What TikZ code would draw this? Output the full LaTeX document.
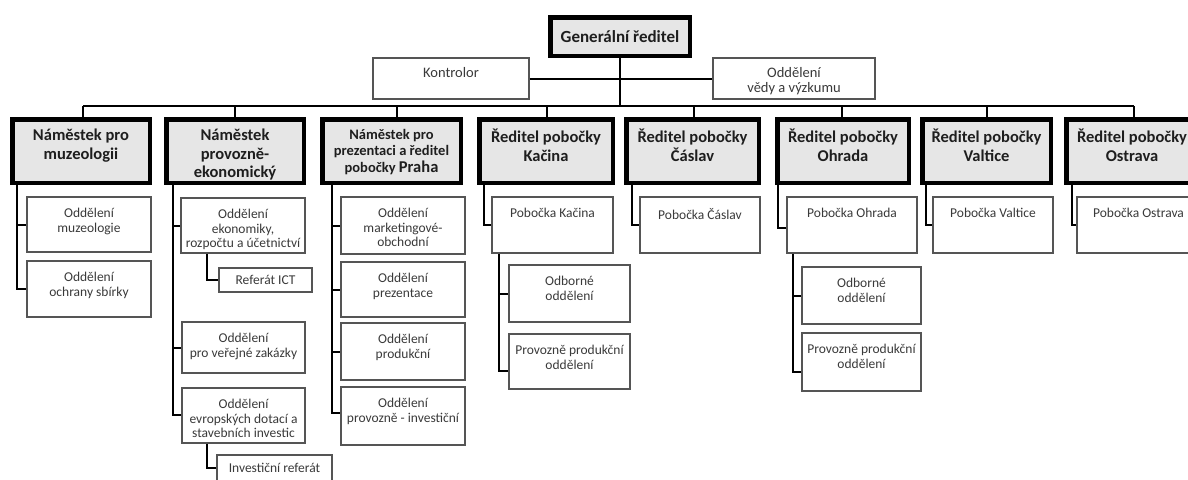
\documentclass[tikz,border=0pt]{standalone}
\usepackage{fontspec}
\setmainfont{Carlito}
\usetikzlibrary{fit,calc}
\definecolor{boxfill}{HTML}{E6E6E6}
\definecolor{thinline}{HTML}{555555}
\definecolor{txt}{HTML}{3A3A3A}
\definecolor{txtdark}{HTML}{1E1E1E}
\tikzset{
  head/.style={draw=black, line width=4.5pt, fill=boxfill, inner sep=0pt},
  chbox/.style={draw=thinline, line width=1.3pt, fill=white, inner sep=0pt},
  conn/.style={draw=black, line width=2pt},
  htext/.style={font=\fontsize{16.5}{18.5}\selectfont\bfseries, text=txtdark, align=center, inner sep=0pt},
  h3text/.style={font=\fontsize{14.5}{16.5}\selectfont\bfseries, text=txtdark, align=center, inner sep=0pt},
  ctext/.style={font=\fontsize{13.5}{14.5}\selectfont, text=txt, align=center, inner sep=0pt},
  ttext/.style={font=\fontsize{14.5}{15}\selectfont, text=txt, align=center, inner sep=0pt},
}
% name, x1, y1, x2, y2, text
\newcommand{\headbox}[6]{%
  \node[head, fit={(#2,#3) (#4,#5)}] (#1) {};
  \node[htext, anchor=north] (#1-t) at ([yshift=-12pt]#1.north) {#6};}
\newcommand{\childbox}[6]{%
  \node[chbox, fit={(#2,#3) (#4,#5)}] (#1) {};
  \node[ctext, anchor=north] (#1-t) at ([yshift=-12pt]#1.north) {#6};}
\newcommand{\childmid}[6]{%
  \node[chbox, fit={(#2,#3) (#4,#5)}] (#1) {};
  \node[ctext] (#1-t) at (#1.center) {#6};}
\begin{document}
\begin{tikzpicture}[x=1pt, y=-1pt]
\useasboundingbox (0,0) rectangle (1188,479);
\clip (0,0) rectangle (1188,479);
\fill[white] (0,0) rectangle (1188,479);

% top level
\node[head, fit={(550.25,17.25) (689.75,55.75)}] (gen) {};
\node[htext, font=\fontsize{17}{19}\selectfont\bfseries] (gen-t) at (gen.center) {Generální ředitel};
\node[chbox, fit={(373,58) (529,99)}] (kon) {};
\node[ttext, anchor=north] (kon-t) at ([yshift=-10pt]kon.north) {Kontrolor};
\node[chbox, fit={(713,58) (875,99)}] (ved) {};
\node[ttext, anchor=north] (ved-t) at ([yshift=-10pt]ved.north) {Oddělení\\vědy a výzkumu};
\coordinate (barY) at (0,106);

% second level
\headbox{n1}{12.25}{119.25}{149.75}{182.75}{Náměstek pro\\muzeologii}
\headbox{n2}{166.25}{119.25}{303.75}{182.75}{Náměstek\\provozně-\\ekonomický}
\node[head, fit={(322.25,119.25) (460.75,182.75)}] (n3) {};
\node[h3text, anchor=north] (n3-t) at ([yshift=-12pt]n3.north) {Náměstek pro\\prezentaci a ředitel\\pobočky {\fontsize{16.5}{16.5}\selectfont Praha}};
\headbox{n4}{479.25}{119.25}{612.75}{182.75}{Ředitel pobočky\\Kačina}
\headbox{n5}{626.25}{119.25}{758.75}{182.75}{Ředitel pobočky\\Čáslav}
\headbox{n6}{777.25}{119.25}{908.75}{182.75}{Ředitel pobočky\\Ohrada}
\headbox{n7}{922.25}{119.25}{1050.75}{182.75}{Ředitel pobočky\\Valtice}
\headbox{n8}{1066.25}{119.25}{1197.75}{182.75}{Ředitel pobočky\\Ostrava}

% top connectors
\draw[conn] (gen.south) -- (gen.south |- barY);
\draw[conn] (kon.east) -- (ved.west);
\draw[conn] ([xshift=2pt]n1.north |- barY) -- ([xshift=2pt]n8.north |- barY);
\foreach \n/\s in {n1/2,n2/0,n3/5.5,n4/1,n5/1,n6/-1,n7/0.5,n8/2}{
  \draw[conn] ([xshift=\s pt]\n.north) -- ([xshift=\s pt]\n.north |- barY);
}

% column 1
\childbox{c11}{27}{197}{151}{252}{Oddělení\\muzeologie}
\childbox{c12}{27}{261}{151}{317}{Oddělení\\ochrany sbírky}
\coordinate (v1) at ([xshift=7pt]n1.south west);
\draw[conn] (v1) |- (c12.west);
\draw[conn] (v1 |- c11.west) -- (c11.west);

% column 2
\childbox{c21}{181}{198}{305}{253}{Oddělení\\ekonomiky,\\rozpočtu a účetnictví}
\childmid{ict}{219}{268}{312}{292}{Referát ICT}
\childbox{c22}{182}{322}{305}{373}{Oddělení\\pro veřejné zakázky}
\childbox{c23}{182}{388}{305}{443}{Oddělení\\evropských dotací a\\stavebních investic}
\childmid{inv}{217}{455}{332}{481}{Investiční referát}
\coordinate (v2) at ([xshift=9pt]n2.south west);
\draw[conn] (v2) |- ([yshift=1pt]c23.west);
\draw[conn] (v2 |- c21.west) -- (c21.west);
\draw[conn] (v2 |- c22.west) -- (c22.west);
\draw[conn] ([xshift=27pt]c21.south west) |- (ict.west);
\draw[conn] ([xshift=26pt]c23.south west) |- (inv.west);

% column 3
\childbox{c31}{341}{197}{465}{254}{Oddělení\\marketingové-\\obchodní}
\childbox{c32}{341}{262}{465}{317}{Oddělení\\prezentace}
\childbox{c33}{341}{323}{465}{380}{Oddělení\\produkční}
\childbox{c34}{341}{387}{465}{445}{Oddělení\\provozně - investiční}
\coordinate (v3) at ([xshift=12pt]n3.south west);
\draw[conn] (v3) |- ([yshift=3pt]c34.west);
\foreach \c in {c31,c32,c33}{\draw[conn] (v3 |- \c.west) -- (\c.west);}

% column 4 Kacina
\childbox{c41}{492}{197}{613}{253}{Pobočka Kačina}
\childbox{c42}{509}{265}{630}{322}{Odborné\\oddělení}
\childbox{c43}{509}{334}{630}{389}{Provozně produkční\\oddělení}
\coordinate (v4) at ([xshift=7pt]n4.south west);
\draw[conn] (v4) |- (c41.west);
\coordinate (v41) at ([xshift=8pt]c41.south west);
\draw[conn] (v41) |- ([yshift=-9.5pt]c43.west);
\draw[conn] (v41 |- c42.west) -- (c42.west);

% column 5 Caslav
\childbox{c51}{640}{197}{760}{253}{Pobočka Čáslav}
\coordinate (v5) at ([xshift=8pt]n5.south west);
\draw[conn] (v5) |- (c51.west);

% column 6 Ohrada
\childbox{c61}{787}{197}{917}{253}{Pobočka Ohrada}
\childbox{c62}{802}{267}{921}{324}{Odborné\\oddělení}
\childbox{c63}{802}{333}{921}{391}{Provozně produkční\\oddělení}
\coordinate (v6) at ([xshift=3pt]n6.south west);
\draw[conn] (v6) |- ([yshift=-3pt]c61.west);
\coordinate (v61) at ([xshift=7pt]c61.south west);
\draw[conn] (v61) |- ([yshift=-9.5pt]c63.west);
\draw[conn] (v61 |- c62.west) -- (c62.west);

% column 7 Valtice
\childbox{c71}{933}{197}{1053}{253}{Pobočka Valtice}
\coordinate (v7) at ([xshift=6pt]n7.south west);
\draw[conn] (v7) |- (c71.west);

% column 8 Ostrava
\childbox{c81}{1077}{197}{1200}{253}{Pobočka Ostrava}
\coordinate (v8) at ([xshift=8pt]n8.south west);
\draw[conn] (v8) |- (c81.west);
\end{tikzpicture}
\end{document}
